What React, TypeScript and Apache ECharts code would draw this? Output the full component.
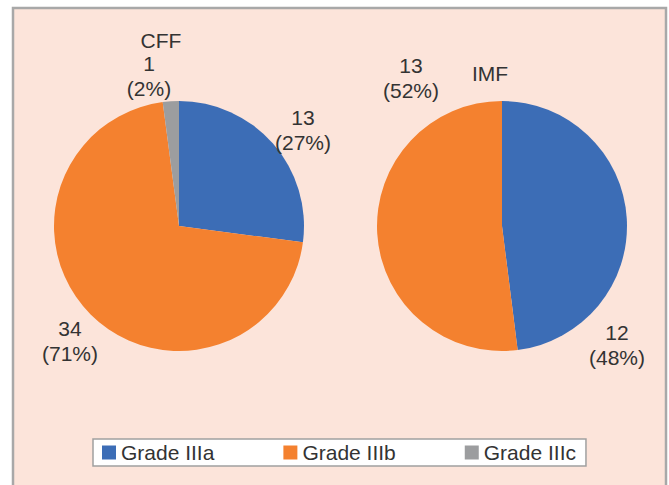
import React, { useEffect, useRef } from "react";
import * as echarts from "echarts";

// ---- data ----
const categories = ["Grade IIIa", "Grade IIIb", "Grade IIIc"];
const cffValues = [13, 34, 1];
const imfValues = [12, 13];
const pieTitles = ["CFF", "IMF"];

// ---- layout / style config ----
const COLORS = ["#3C6DB6", "#F4812F", "#9C9D9F"];
const FONT = "'Liberation Sans', Arial, sans-serif";
const TEXT_COLOR = "#333333";
const PIE_CENTERS: [number, number][] = [
  [179, 226],
  [502, 226],
];
const PIE_RADIUS = 125;
// label centre positions per [series][dataIndex]
const LABEL_POS: [number, number][][] = [
  [
    [303, 130],
    [70, 341],
    [149, 76],
  ],
  [
    [617, 345],
    [411, 78],
  ],
];
const TITLE_POS: [number, number][] = [
  [161, 40],
  [490, 73],
];

export default function App() {
  const ref = useRef<HTMLDivElement>(null);

  useEffect(() => {
    document.body.style.margin = "0";
    if (!ref.current) return;
    const chart = echarts.init(ref.current, undefined, { renderer: "svg" });

    const seriesValues = [cffValues, imfValues];

    const series = seriesValues.map((vals, si) => ({
      type: "pie",
      name: pieTitles[si],
      center: PIE_CENTERS[si],
      radius: PIE_RADIUS,
      startAngle: 90,
      clockwise: true,
      avoidLabelOverlap: false,
      percentPrecision: 0,
      silent: true,
      data: vals.map((v, i) => ({
        name: categories[i],
        value: v,
        itemStyle: { color: COLORS[i] },
      })),
      label: {
        show: true,
        position: "outside",
        formatter: "{c}\n({d}%)",
        color: TEXT_COLOR,
        fontFamily: FONT,
        fontSize: 21,
        lineHeight: 25,
      },
      labelLine: { show: false },
      labelLayout: (params: any) => {
        const p = LABEL_POS[params.seriesIndex]?.[params.dataIndex];
        if (!p) return {};
        return { x: p[0], y: p[1], align: "center", verticalAlign: "middle" };
      },
      emphasis: { disabled: true },
    }));

    chart.setOption({
      animation: false,
      backgroundColor: "#ffffff",
      color: COLORS,
      graphic: [
        {
          type: "rect",
          z: -10,
          shape: { x: 13, y: 8, width: 653, height: 500 },
          style: { fill: "#FCE4DA", stroke: "#A8A8A8", lineWidth: 2.5 },
          silent: true,
        },
        ...pieTitles.map((t, i) => ({
          type: "text",
          z: 10,
          x: TITLE_POS[i][0],
          y: TITLE_POS[i][1],
          style: {
            text: t,
            fill: TEXT_COLOR,
            font: `21px ${FONT}`,
            textAlign: "center",
            textVerticalAlign: "middle",
          },
          silent: true,
        })),
      ],
      legend: {
        data: categories,
        left: 93,
        top: 439,
        orient: "horizontal",
        icon: "rect",
        itemWidth: 14,
        itemHeight: 14,
        itemGap: 69,
        padding: [3, 10, 3, 9],
        backgroundColor: "#ffffff",
        borderColor: "#A0A0A0",
        borderWidth: 1.5,
        selectedMode: false,
        textStyle: {
          color: TEXT_COLOR,
          fontFamily: FONT,
          fontSize: 21,
        },
      },
      series,
    });

    return () => {
      chart.dispose();
    };
  }, []);

  return <div ref={ref} style={{ width: 669, height: 485 }} />;
}
